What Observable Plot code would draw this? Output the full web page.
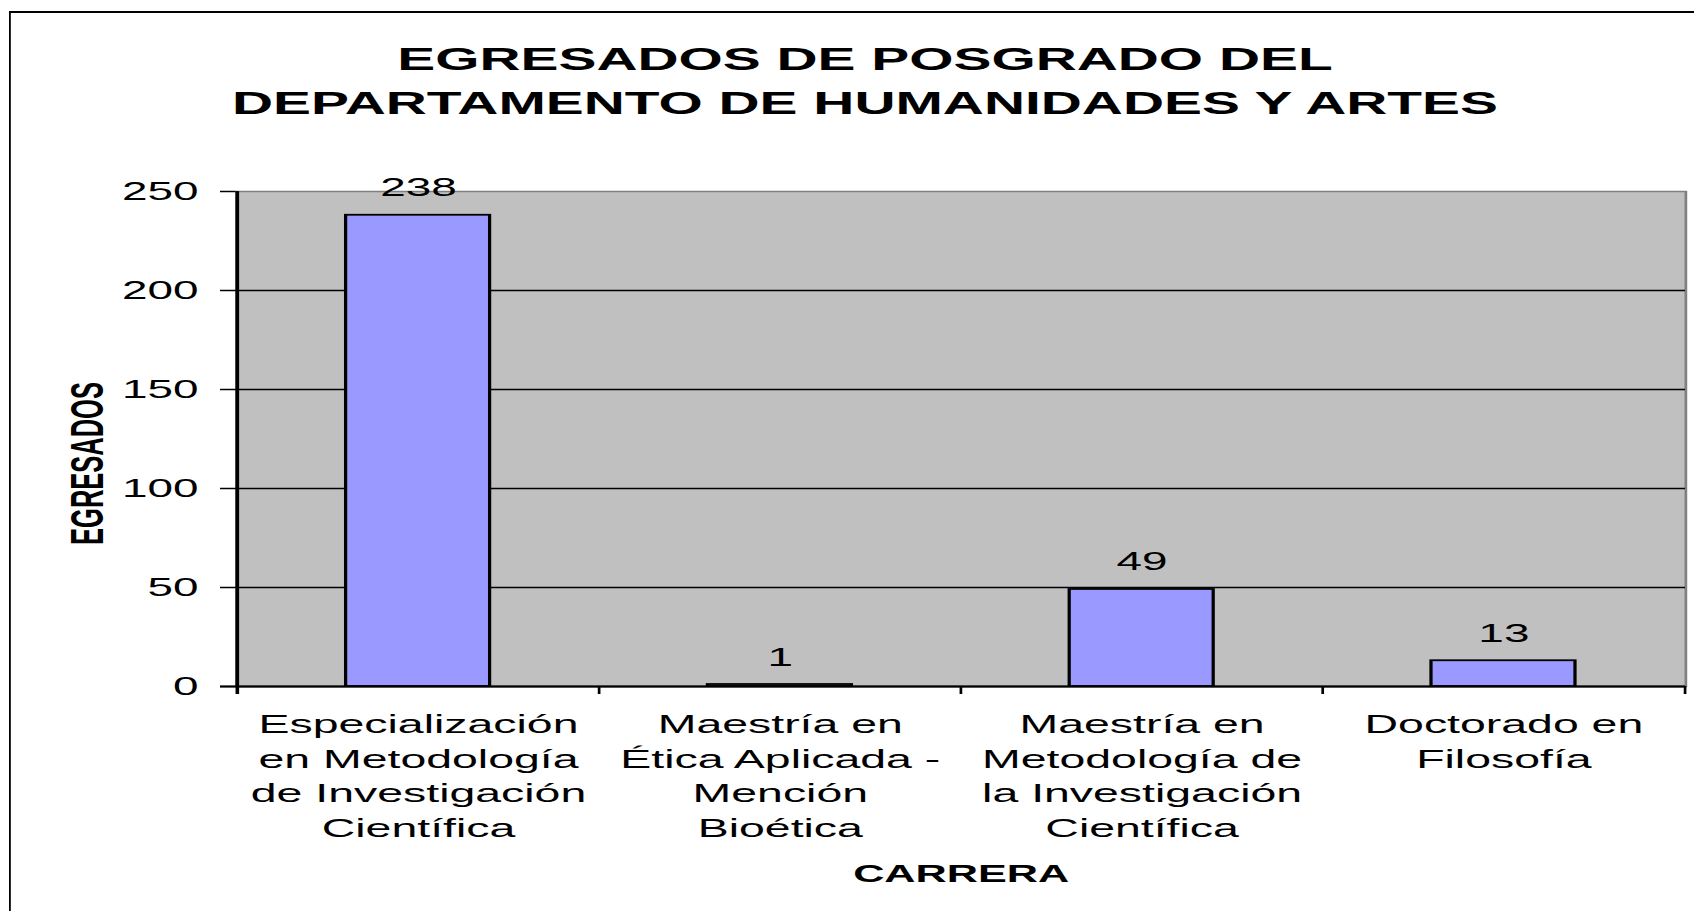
<!DOCTYPE html>
<html><head><meta charset="utf-8">
<script src="https://cdn.jsdelivr.net/npm/d3@7"></script>
<script src="https://cdn.jsdelivr.net/npm/@observablehq/plot@0.6"></script>
<style>
html,body{margin:0;padding:0;background:#fff;overflow:hidden;width:1694px;height:911px;}
#stage{position:absolute;left:0;top:0;width:941.11px;height:911px;transform:scaleX(1.8);transform-origin:0 0;font-family:"Liberation Sans",Arial,sans-serif;}
#frame{position:absolute;left:5px;top:11px;width:1000px;height:1000px;border-left:1.7px solid #000;border-top:2px solid #000;box-sizing:border-box;}
#title{position:absolute;left:0;top:37px;width:961.1px;text-align:center;font-weight:bold;font-size:31.6px;line-height:44px;color:#000;}
#chart{position:absolute;left:0;top:0;}
</style></head>
<body>
<div id="stage">
  <div id="chart"></div>
  <div id="frame"></div>
  <div id="title">EGRESADOS DE POSGRADO DEL<br>DEPARTAMENTO DE HUMANIDADES Y ARTES</div>
</div>
<script>
const carreras = [
  "Especialización en Metodología de Investigación Científica",
  "Maestría en Ética Aplicada - Mención Bioética",
  "Maestría en Metodología de la Investigación Científica",
  "Doctorado en Filosofía"
];
const etiquetas = [
  "Especialización\nen Metodología\nde Investigación\nCientífica",
  "Maestría en\nÉtica Aplicada -\nMención\nBioética",
  "Maestría en\nMetodología de\nla Investigación\nCientífica",
  "Doctorado en\nFilosofía"
];
const egresados = [238, 1, 49, 13];
const yTicks = [0, 50, 100, 150, 200, 250];
const gridLines = [0, 50, 100, 150, 200];
const yTitle = "EGRESADOS";
const xTitle = "CARRERA";

const data = carreras.map((c, i) => ({carrera: c, etiqueta: etiquetas[i], valor: egresados[i]}));

const W = 941.11, H = 911;
const mL = 130.83, mR = 5.0, mT = 191, mB = 225;
const plotW = W - mL - mR, plotH = H - mT - mB;
const step = plotW / carreras.length;

const chart = Plot.plot({
  width: W, height: H,
  marginLeft: mL, marginRight: mR, marginTop: mT, marginBottom: mB,
  style: {background: "transparent", fontFamily: "'Liberation Sans', Arial, sans-serif", fontSize: "25.5px", color: "#000", overflow: "visible"},
  x: {domain: carreras, paddingInner: 0.6, paddingOuter: 0.3, axis: null},
  y: {domain: [0, 250], axis: null},
  marks: [
    Plot.frame({fill: "#C0C0C0", stroke: "#808080", strokeWidth: 1.5}),
    Plot.ruleY(gridLines, {y: d => d, stroke: "#000", strokeWidth: 1.5, insetLeft: -8.6}),
    Plot.ruleY([250], {y: d => d, stroke: "#000", strokeWidth: 1.5, insetLeft: -8.6, insetRight: plotW}),
    Plot.barY(data, {x: "carrera", y: "valor", fill: "#9999FF", stroke: "#000", strokeWidth: 1.8}),
    Plot.ruleY([0], {y: d => d, stroke: "#000", strokeWidth: 2, insetLeft: -8.6}),
    Plot.ruleX([carreras[0]], {x: d => d, dx: -step / 2, stroke: "#000", strokeWidth: 2, insetBottom: -8}),
    Plot.ruleX(carreras, {x: d => d, dx: -step / 2, stroke: "#000", strokeWidth: 1.5, insetTop: plotH, insetBottom: -8}),
    Plot.ruleX([carreras[carreras.length - 1]], {x: d => d, dx: step / 2, stroke: "#000", strokeWidth: 1.5, insetTop: plotH, insetBottom: -8}),
    Plot.text(yTicks, {y: d => d, text: d => String(d), frameAnchor: "left", textAnchor: "end", dx: -21, fill: "#000"}),
    Plot.text(data, {x: "carrera", y: "valor", text: d => String(d.valor), lineAnchor: "bottom", dy: -19, fill: "#000"}),
    Plot.text(data, {x: "carrera", text: "etiqueta", frameAnchor: "bottom", lineAnchor: "top", dy: 21.5, lineHeight: 1.35, fontSize: 25.8, fill: "#000"}),
    Plot.text([xTitle], {text: d => d, frameAnchor: "bottom", lineAnchor: "bottom", dy: 196, fontWeight: "bold", fontSize: 24, fill: "#000"}),
    Plot.text([yTitle], {text: d => d, frameAnchor: "left", textAnchor: "middle", rotate: -90, dx: -82.1, dy: 24.5, fontWeight: "bold", fontSize: 25.5, fill: "#000"})
  ]
});
document.getElementById("chart").appendChild(chart);
</script>
</body></html>
